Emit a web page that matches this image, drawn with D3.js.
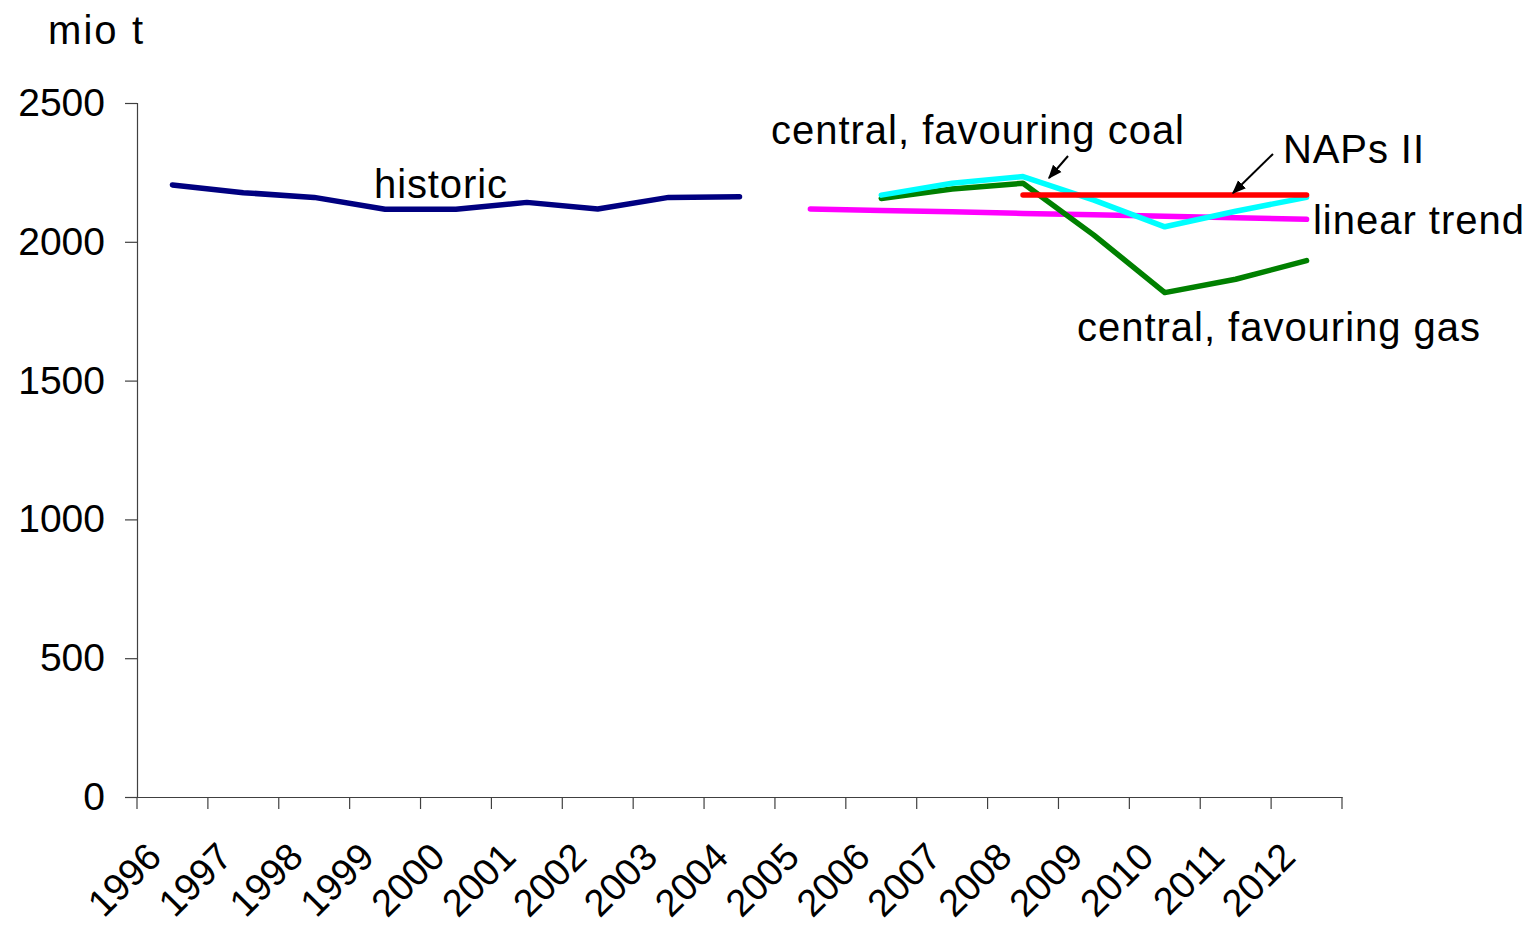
<!DOCTYPE html>
<html>
<head>
<meta charset="utf-8">
<script src="https://cdn.jsdelivr.net/npm/d3@7"></script>
<style>
  html, body { margin: 0; padding: 0; background: #fff; }
  svg { display: block; }
  text { font-family: "Liberation Sans", Arial, sans-serif; fill: #000; }
</style>
</head>
<body>
<svg id="chart" width="1531" height="927"></svg>
<script>
// ---- data ----
const years = ["1996","1997","1998","1999","2000","2001","2002","2003","2004","2005","2006","2007","2008","2009","2010","2011","2012"];
const yTicks = [0, 500, 1000, 1500, 2000, 2500];

const historicYears = ["1996","1997","1998","1999","2000","2001","2002","2003","2004"];
const historicValues = [2205, 2177, 2160, 2117, 2117, 2142, 2118, 2160, 2162];

const trendYears = ["2005","2006","2007","2008","2009","2010","2011","2012"];
const trendValues = [2118, 2113, 2108, 2102, 2097, 2092, 2087, 2081];

const coalYears = ["2006","2007","2008","2009","2010","2011","2012"];
const coalValues = [2168, 2211, 2235, 2150, 2054, 2110, 2160];

const gasYears = ["2006","2007","2008","2009","2010","2011","2012"];
const gasValues = [2156, 2190, 2211, 2024, 1817, 1865, 1932];

const napsYears = ["2008","2009","2010","2011","2012"];
const napsValues = [2169, 2169, 2169, 2169, 2169];

// ---- layout ----
const svg = d3.select("#chart");
const x = d3.scaleBand().domain(years).range([137, 1342]).padding(0);
const y = d3.scaleLinear().domain([0, 2500]).range([797, 103]);
const cx = d => x(d) + x.bandwidth() / 2;

// axes
const yAxis = svg.append("g").attr("transform", "translate(137,0)")
  .call(d3.axisLeft(y).tickValues(yTicks).tickSize(12).tickPadding(20).tickFormat(d3.format("d")));
const xAxis = svg.append("g").attr("transform", "translate(0,797)")
  .call(d3.axisBottom(x).tickValues([]).tickSizeOuter(0));

[yAxis, xAxis].forEach(g => {
  g.select(".domain").attr("stroke", "#404040").attr("stroke-width", 1.2);
  g.selectAll(".tick line").attr("stroke", "#404040").attr("stroke-width", 1.2);
});
yAxis.selectAll(".tick text").attr("font-size", 39).attr("font-family", "Liberation Sans, Arial, sans-serif").attr("fill", "#000");

// x tick marks at band boundaries
const bounds = years.map(d => x(d)).concat([x.range()[1]]);
xAxis.selectAll("line.bt").data(bounds).enter().append("line")
  .attr("class", "bt")
  .attr("x1", d => d).attr("x2", d => d)
  .attr("y1", 0).attr("y2", 12)
  .attr("stroke", "#404040").attr("stroke-width", 1.2);

// x labels rotated
svg.append("g").selectAll("text").data(years).enter().append("text")
  .attr("transform", d => `translate(${cx(d) - 9},859) rotate(-45)`)
  .attr("text-anchor", "end")
  .attr("font-size", 38)
  .text(d => d);

// y title
svg.append("text").attr("x", 48).attr("y", 44).attr("font-size", 40)
  .attr("textLength", 95).attr("lengthAdjust", "spacing").text("mio t");

// lines
const lineGen = d3.line().x(d => cx(d[0])).y(d => y(d[1]));
function drawSeries(ys, vs, color, w) {
  svg.append("path")
    .datum(ys.map((d, i) => [d, vs[i]]))
    .attr("d", lineGen)
    .attr("fill", "none")
    .attr("stroke", color)
    .attr("stroke-width", w)
    .attr("stroke-linecap", "round")
    .attr("stroke-linejoin", "round");
}
drawSeries(historicYears, historicValues, "#000080", 5.5);
drawSeries(trendYears, trendValues, "#FF00FF", 5.5);
drawSeries(gasYears, gasValues, "#008000", 5.5);
drawSeries(coalYears, coalValues, "#00FFFF", 5.5);
drawSeries(napsYears, napsValues, "#FF0000", 5.5);

// series labels
const labels = [
  {t: "historic", x: 374, y: 198, w: 133},
  {t: "central, favouring coal", x: 771, y: 144, w: 413},
  {t: "NAPs II", x: 1283, y: 163, w: 141},
  {t: "linear trend", x: 1313, y: 234, w: 211},
  {t: "central, favouring gas", x: 1077, y: 341, w: 403}
];
svg.append("g").selectAll("text").data(labels).enter().append("text")
  .attr("x", d => d.x).attr("y", d => d.y)
  .attr("font-size", 40)
  .attr("textLength", d => d.w).attr("lengthAdjust", "spacing")
  .text(d => d.t);

// arrows
const defs = svg.append("defs");
defs.append("marker").attr("id", "ah").attr("viewBox", "0 0 10 10")
  .attr("refX", 9).attr("refY", 5)
  .attr("orient", "auto").attr("markerUnits", "userSpaceOnUse")
  .attr("markerWidth", 14).attr("markerHeight", 14)
  .append("path").attr("d", "M0,1 L10,5 L0,9 Z").attr("fill", "#000");
const arrows = [
  {x1: 1068, y1: 156, x2: 1049, y2: 178},
  {x1: 1273, y1: 154, x2: 1233, y2: 193}
];
svg.append("g").selectAll("line").data(arrows).enter().append("line")
  .attr("x1", d => d.x1).attr("y1", d => d.y1).attr("x2", d => d.x2).attr("y2", d => d.y2)
  .attr("stroke", "#000").attr("stroke-width", 2)
  .attr("marker-end", "url(#ah)");
</script>
</body>
</html>
